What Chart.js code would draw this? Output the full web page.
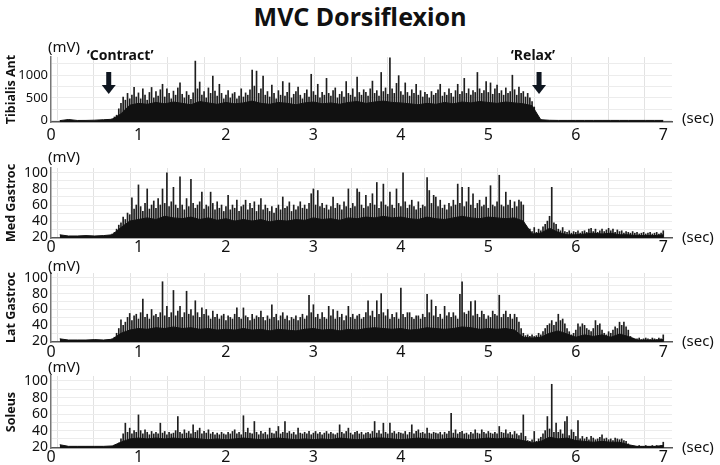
<!DOCTYPE html>
<html>
<head>
<meta charset="utf-8">
<script src="https://cdn.jsdelivr.net/npm/chart.js@4.4.1/dist/chart.umd.min.js"></script>
<style>
  body { margin: 0; background: #fff; }
  #wrap { position: relative; width: 720px; height: 465px; overflow: hidden; }
  #wrap canvas { position: absolute; left: 0; top: 0; }
  #title { position: absolute; left: 0; top: 0; width: 720px; text-align: center;
           font: bold 25px 'Noto Sans', sans-serif; line-height: 32px; color: #111; }
</style>
</head>
<body>
<div id="wrap">
  <div id="title">MVC Dorsiflexion</div>
  <canvas id="c1" width="720" height="465"></canvas>
  <canvas id="c2" width="720" height="465"></canvas>
  <canvas id="c3" width="720" height="465"></canvas>
  <canvas id="c4" width="720" height="465"></canvas>
</div>
<script>
// time axis (sec)
const secTicks = [0, 1, 2, 3, 4, 5, 6, 7];
const gridSecs = [0.28, 0.7, 1.12, 1.54, 1.96, 2.38, 2.8, 3.22, 3.64, 4.06, 4.48, 4.9, 5.32, 5.74, 6.16, 6.58, 7.0];

// dense part of the signal, one value every 0.1 s from 0.1 s
const coreStart = 0.1, coreStep = 0.1;
// spikes, one value every 0.025 s from 0.7 s
const spikeStart = 0.7, spikeStep = 0.025;

// Tibialis Ant (mV)
const taCore = [
  0, 25, 4, 5, 10, 20, 30, 150, 340, 380,
  360, 400, 370, 410, 380, 350, 420, 390, 360, 400,
  370, 390, 430, 380, 360, 400, 380, 350, 390, 410,
  370, 390, 360, 400, 420, 380, 410, 430, 400, 390,
  370, 350, 380, 360, 400, 370, 410, 390, 420, 400,
  380, 410, 390, 370, 330, 20, 8, 5, 5, 5,
  5, 5, 5, 5, 5, 5, 5, 5, 5, 5
];
const taSpikes = [
  40, 80, 120, 260, 380, 520, 450, 600,
  480, 560, 730, 520, 610, 480, 700, 560,
  450, 620, 730, 500, 640, 540, 680, 800,
  520, 700, 600, 480, 650, 560, 720, 830,
  580, 500, 640, 560, 470, 610, 1310, 700,
  850, 560, 640, 500, 720, 600, 980, 650,
  540, 800, 600, 480, 560, 660, 500, 590,
  620, 480, 540, 700, 520, 610, 560, 680,
  1110, 760, 1090, 600, 700, 980, 560, 640,
  520, 780, 600, 480, 660, 560, 860, 540,
  620, 830, 500, 580, 640, 740, 560, 480,
  600, 680, 520, 1020, 640, 560, 800, 500,
  620, 560, 930, 600, 540, 660, 720, 500,
  580, 640, 520, 860, 600, 560, 700, 520,
  960, 620, 560, 680, 620, 540, 700, 870,
  600, 660, 540, 1060, 640, 720, 580, 1380,
  700, 600, 820, 990, 640, 560, 830, 620,
  540, 680, 600, 800, 560, 660, 520, 620,
  580, 500, 640, 560, 600, 680, 800, 540,
  620, 560, 700, 600, 520, 660, 800, 580,
  640, 930, 600, 700, 560, 660, 620, 1060,
  700, 600, 660, 860, 620, 830, 580, 700,
  780, 600, 660, 560, 720, 600, 640, 1000,
  680, 560, 740, 600, 640, 520, 600, 500,
  420, 300, 80, 40, 20
];

// Med Gastroc (mV)
const mgCore = [
  23, 21.5, 21.5, 22, 21.5, 22, 23, 32, 40, 42,
  44, 42, 46, 44, 43, 45, 42, 44, 41, 43,
  40, 42, 40, 42, 39, 41, 40, 42, 41, 44,
  42, 43, 41, 44, 43, 45, 44, 46, 44, 45,
  43, 42, 45, 43, 42, 44, 46, 44, 43, 45,
  44, 43, 44, 40, 24, 25, 31, 26, 23, 23,
  24, 25, 24, 25, 23, 23, 22, 22, 22, 23
];
const mgSpikes = [
  24, 26, 30, 35, 38, 45, 42, 50,
  48, 69, 55, 60, 85, 58, 52, 62,
  80, 55, 60, 65, 56, 68, 60, 80,
  62, 100, 58, 64, 82, 60, 56, 95,
  60, 54, 68, 58, 92, 62, 56, 60,
  64, 76, 55, 60, 58, 76, 62, 54,
  64, 56, 60, 52, 58, 72, 54, 60,
  56, 66, 52, 58, 60, 66, 54, 62,
  56, 64, 52, 60, 68, 54, 60, 56,
  52, 58, 50, 56, 60, 54, 70, 56,
  58, 64, 52, 60, 54, 58, 64, 56,
  60, 55, 62, 74, 80, 60, 78, 58,
  62, 56, 60, 54, 58, 70, 56, 62,
  60, 54, 64, 58, 80, 56, 62, 58,
  80, 76, 60, 56, 72, 58, 62, 74,
  60, 88, 56, 64, 86, 60, 58, 76,
  60, 56, 80, 62, 58, 100, 64, 56,
  60, 66, 58, 54, 64, 56, 60, 58,
  94, 78, 62, 72, 70, 58, 66, 56,
  60, 54, 62, 58, 66, 60, 86, 62,
  82, 58, 64, 82, 60, 74, 56, 62,
  66, 58, 60, 70, 56, 84, 60, 58,
  64, 97, 60, 58, 76, 60, 66, 56,
  64, 58, 66, 64, 60, 34, 28, 30,
  27, 32, 26, 30, 28, 33, 36, 40,
  46, 82, 38, 36, 30, 28, 32, 27,
  26, 28, 25, 27, 26, 28, 25, 27,
  28, 26, 30, 31, 27, 30, 26, 28,
  30, 27, 29, 31, 28, 30, 26, 29,
  27, 28, 25, 27, 26, 25, 27, 25,
  26, 24, 25, 26, 24, 25, 26, 24,
  25, 26, 24, 25, 28
];

// Lat Gastroc (mV)
const lgCore = [
  23, 21.5, 21.5, 21.5, 22, 21.5, 22.5, 30, 34, 36,
  35, 37, 36, 38, 36, 37, 35, 36, 34, 35,
  34, 36, 34, 35, 33, 35, 34, 33, 35, 36,
  34, 35, 33, 35, 34, 36, 37, 36, 35, 36,
  34, 35, 37, 36, 35, 36, 38, 37, 35, 36,
  35, 36, 34, 25, 24, 25, 30, 33, 29, 25,
  28, 26, 28, 25, 29, 26, 21.5, 21.5, 21.5, 22
];
const lgSpikes = [
  23, 25, 30, 36, 47, 40, 44, 50,
  55, 46, 52, 54, 48, 56, 73, 50,
  54, 48, 60, 52, 54, 50, 56, 95,
  52, 64, 50, 56, 84, 52, 58, 64,
  50, 56, 83, 54, 60, 52, 71, 56,
  50, 62, 54, 60, 52, 48, 58, 50,
  54, 48, 52, 54, 46, 52, 50, 48,
  54, 62, 50, 48, 62, 52, 50, 46,
  54, 48, 52, 50, 58, 50, 46, 52,
  48, 66, 50, 54, 46, 52, 56, 48,
  52, 46, 50, 48, 52, 46, 50, 54,
  48, 52, 78, 56, 66, 50, 54, 48,
  56, 50, 48, 64, 52, 60, 48, 58,
  50, 54, 46, 52, 64, 50, 54, 48,
  52, 54, 48, 50, 56, 71, 52, 58,
  50, 71, 54, 80, 56, 52, 60, 48,
  54, 50, 56, 48, 87, 54, 50, 56,
  56, 50, 48, 52, 52, 48, 54, 50,
  79, 56, 72, 52, 64, 50, 54, 48,
  64, 52, 56, 50, 56, 52, 48, 79,
  95, 56, 54, 58, 70, 52, 71, 54,
  50, 58, 54, 48, 52, 50, 58, 54,
  52, 78, 50, 54, 58, 50, 54, 48,
  54, 50, 44, 36, 30, 27, 28, 26,
  28, 26, 27, 30, 28, 32, 36, 40,
  42, 46, 40, 44, 54, 46, 48, 42,
  36, 32, 28, 30, 34, 42, 38, 42,
  40, 36, 34, 32, 36, 46, 40, 42,
  34, 30, 28, 32, 30, 34, 38, 36,
  44, 40, 44, 38, 34, 26, 24, 23,
  23, 24, 22, 23, 24, 23, 22, 24,
  23, 22, 24, 23, 28
];

// Soleus (mV)
const soCore = [
  23, 21, 21, 21, 21, 21, 21.5, 26, 30, 31,
  30, 31, 30, 31, 30, 31, 30, 29, 30, 29,
  30, 31, 30, 29, 30, 31, 30, 29, 30, 29,
  30, 29, 31, 30, 29, 30, 31, 31, 30, 29,
  30, 31, 30, 29, 30, 31, 30, 29, 30, 31,
  30, 31, 30, 28, 25, 27, 32, 30, 31, 28,
  27, 26, 27, 26, 26, 23, 21, 21, 21, 22
];
const soSpikes = [
  21, 22, 23, 25, 30, 36, 49, 38,
  43, 36, 40, 38, 59, 40, 36, 41,
  38, 35, 39, 36, 38, 36, 49, 37,
  39, 35, 38, 36, 37, 40, 57, 38,
  36, 41, 37, 39, 36, 47, 38, 40,
  43, 36, 39, 37, 41, 36, 38, 35,
  37, 35, 38, 36, 35, 38, 36, 39,
  41, 36, 38, 35, 58, 38, 43, 37,
  36, 51, 38, 35, 39, 36, 38, 35,
  43, 37, 36, 39, 45, 36, 38, 51,
  37, 39, 36, 38, 35, 43, 37, 36,
  38, 36, 39, 35, 37, 39, 36, 38,
  35, 37, 39, 36, 38, 36, 35, 37,
  47, 38, 36, 39, 43, 37, 35, 38,
  39, 36, 38, 35, 37, 38, 36, 39,
  51, 37, 40, 36, 49, 38, 36, 49,
  37, 39, 36, 38, 37, 36, 39, 35,
  38, 47, 36, 39, 41, 37, 38, 36,
  43, 37, 36, 38, 37, 36, 38, 35,
  38, 36, 39, 61, 37, 41, 36, 38,
  39, 36, 37, 35, 38, 36, 41, 37,
  36, 41, 38, 36, 39, 37, 36, 38,
  36, 45, 38, 37, 41, 36, 38, 35,
  39, 36, 34, 37, 59, 33, 28, 27,
  29, 39, 27, 30, 32, 36, 40, 57,
  42, 96, 38, 49, 38, 41, 36, 51,
  57, 34, 41, 38, 33, 52, 30, 33,
  30, 32, 29, 33, 31, 29, 30, 32,
  35, 30, 31, 29, 30, 28, 31, 30,
  29, 30, 28, 27, 24, 22, 21, 21,
  21, 22, 21, 21, 22, 21, 21, 22,
  21, 22, 21, 22, 26
];

const taTicks = [0, 250, 500, 750, 1000, 1250];
const taLabels = [0, 500, 1000];
const gTicks = [20, 30, 40, 50, 60, 70, 80, 90, 100];
const gLabels = [20, 40, 60, 80, 100];

Chart.defaults.font.family = "'Noto Sans', sans-serif";
Chart.defaults.color = '#111';

function series(start, step, values) {
  return values.map((v, i) => ({ x: +(start + i * step).toFixed(3), y: v }));
}

const panels = [
  { id: 'c1', name: 'Tibialis Ant', core: taCore, spikes: taSpikes, yMin: -30, yMax: 1400,
    yTicks: taTicks, yLabels: taLabels, top: 57, bottom: 122, xH: 24, tickPad: 4, mvDy: -9, secDy: -3, yFont: 13,
    marks: [{ t: 0.66, textT: 0.79, text: '\u2018Contract\u2019' }, { t: 5.58, textT: 5.51, text: '\u2018Relax\u2019' }] },
  { id: 'c2', name: 'Med Gastroc', core: mgCore, spikes: mgSpikes, yMin: 19, yMax: 106,
    yTicks: gTicks, yLabels: gLabels, top: 168, bottom: 238, xH: 24, tickPad: 0, mvDy: -10, secDy: 0, yFont: 14 },
  { id: 'c3', name: 'Lat Gastroc', core: lgCore, spikes: lgSpikes, yMin: 19, yMax: 106,
    yTicks: gTicks, yLabels: gLabels, top: 273, bottom: 342, xH: 24, tickPad: 1, mvDy: -6, secDy: 0, yFont: 14 },
  { id: 'c4', name: 'Soleus', core: soCore, spikes: soSpikes, yMin: 19, yMax: 106,
    yTicks: gTicks, yLabels: gLabels, top: 376, bottom: 448, xH: 17, tickPad: 0, mvDy: -8, secDy: 0, yFont: 14 }
];

// unit labels, arrows and their captions
function extras(p) {
  return {
    id: 'extras',
    afterDraw(chart) {
      const { ctx, chartArea: a, scales } = chart;
      ctx.save();
      ctx.fillStyle = '#111';
      ctx.textBaseline = 'middle';
      ctx.textAlign = 'left';
      ctx.font = "15px 'Noto Sans'";
      ctx.fillText('(mV)', a.left - 3, a.top + p.mvDy);
      ctx.fillText('(sec)', a.right + 10, a.bottom + p.secDy);
      (p.marks || []).forEach(m => {
        ctx.font = "bold 14px 'Noto Sans'";
        ctx.textAlign = 'center';
        ctx.fillText(m.text, scales.x.getPixelForValue(m.textT), 56.5);
        const x = scales.x.getPixelForValue(m.t);
        ctx.fillStyle = '#0f1620';
        ctx.fillRect(x - 2.5, 72, 5, 13);
        ctx.beginPath();
        ctx.moveTo(x - 7, 85);
        ctx.lineTo(x + 7, 85);
        ctx.lineTo(x, 94);
        ctx.closePath();
        ctx.fill();
        ctx.fillStyle = '#111';
      });
      ctx.restore();
    }
  };
}

panels.forEach(p => {
  new Chart(document.getElementById(p.id), {
    type: 'bar',
    data: {
      datasets: [
        { type: 'line', data: series(coreStart, coreStep, p.core), borderColor: '#111', backgroundColor: '#111',
          borderWidth: 1, pointRadius: 0, fill: 'start', tension: 0, order: 1 },
        { type: 'bar', data: series(spikeStart, spikeStep, p.spikes), backgroundColor: '#1e1e1e',
          barThickness: 1, order: 2 }
      ]
    },
    options: {
      responsive: false,
      animation: false,
      events: [],
      layout: { padding: { top: p.top, bottom: 465 - p.bottom - p.xH, left: 0, right: 48 } },
      plugins: { legend: { display: false }, tooltip: { enabled: false } },
      scales: {
        x: {
          type: 'linear', min: 0, max: 7.1, offset: false,
          grid: { display: false, drawTicks: false },
          border: { color: '#555', width: 1.5 },
          afterBuildTicks: s => { s.ticks = secTicks.map(v => ({ value: v })); },
          afterFit: s => { s.height = p.xH; },
          ticks: { padding: p.tickPad, font: { size: 16 }, maxRotation: 0, autoSkip: false }
        },
        xg: {
          type: 'linear', position: 'top', min: 0, max: 7.1, offset: false,
          ticks: { display: false },
          grid: { color: '#e2e2e2', drawTicks: false },
          border: { display: false },
          afterBuildTicks: s => { s.ticks = gridSecs.map(v => ({ value: v })); },
          afterFit: s => { s.height = 0; }
        },
        y: {
          type: 'linear', min: p.yMin, max: p.yMax,
          grid: { color: '#ececec', drawTicks: false },
          border: { color: '#777', width: 1.5 },
          afterBuildTicks: s => { s.ticks = p.yTicks.map(v => ({ value: v })); },
          afterFit: s => { s.width = 51; },
          ticks: { padding: 3, autoSkip: false, font: { size: p.yFont },
                   callback: v => p.yLabels.includes(v) ? v : '' },
          title: { display: true, text: p.name, font: { size: 12.5, weight: 'bold' }, padding: { top: 4, bottom: 0 } }
        }
      }
    },
    plugins: [extras(p)]
  });
});
</script>
</body>
</html>
